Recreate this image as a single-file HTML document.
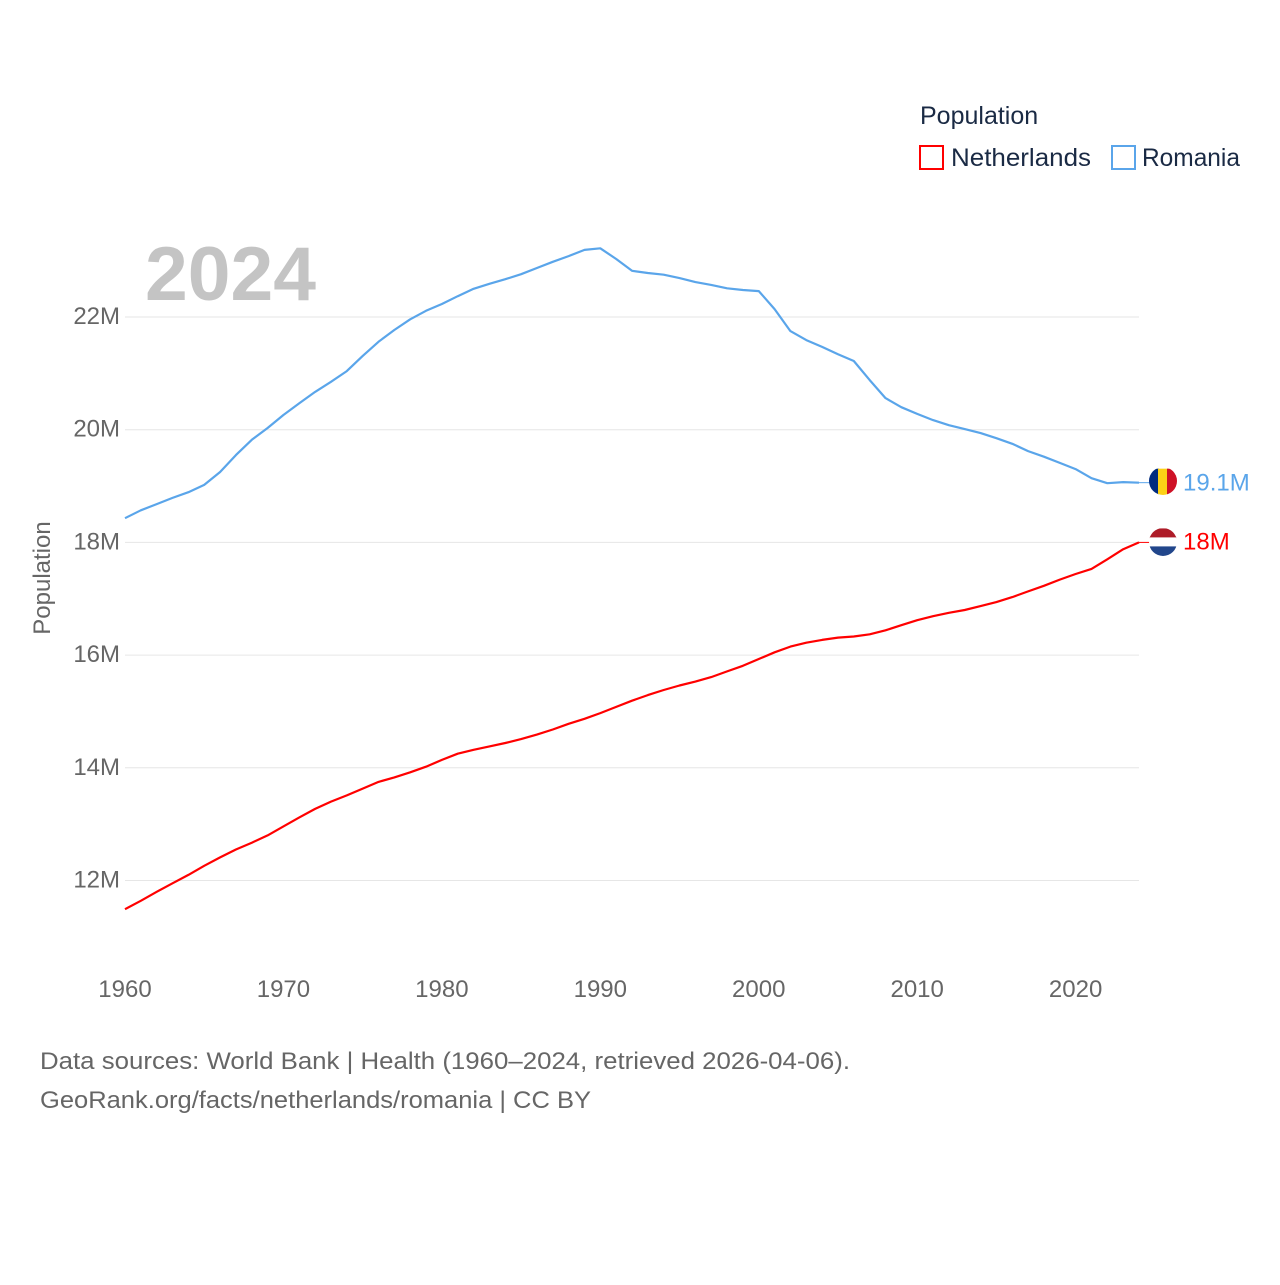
<!DOCTYPE html>
<html><head><meta charset="utf-8"><style>
body{margin:0;background:#fff;}
svg text{font-family:"Liberation Sans",sans-serif;}
</style></head><body>
<svg id="chart" width="1280" height="1280" viewBox="0 0 1280 1280" xmlns="http://www.w3.org/2000/svg">
<rect width="1280" height="1280" fill="#fff"/>
<g id="grid"></g>
<g id="yticks"></g>
<g id="xticks"></g>
<text x="145" y="300" font-size="76" font-weight="bold" fill="#c4c4c4" textLength="171" lengthAdjust="spacingAndGlyphs">2024</text>
<text transform="translate(50,578) rotate(-90)" text-anchor="middle" font-size="24" fill="#666">Population</text>
<g id="series"></g>
<g>
<text x="920" y="124" font-size="25" fill="#1a2a44">Population</text>
<g><rect x="920" y="146" width="23" height="23" fill="none" stroke="#f00" stroke-width="2"/><text x="951" y="166" font-size="25" fill="#1a2a44" textLength="140" lengthAdjust="spacingAndGlyphs">Netherlands</text></g>
<g><rect x="1112" y="146" width="23" height="23" fill="none" stroke="#5aa5ea" stroke-width="2"/><text x="1142" y="166" font-size="25" fill="#1a2a44" textLength="98" lengthAdjust="spacingAndGlyphs">Romania</text></g>
</g>
<text x="40" y="1069" font-size="24" fill="#666" textLength="810" lengthAdjust="spacingAndGlyphs">Data sources: World Bank | Health (1960–2024, retrieved 2026-04-06).</text>
<text x="40" y="1108" font-size="24" fill="#666" textLength="551" lengthAdjust="spacingAndGlyphs">GeoRank.org/facts/netherlands/romania | CC BY</text>
<defs>
<clipPath id="c1"><circle cx="1163" cy="481" r="14"/></clipPath>
<clipPath id="c2"><circle cx="1163" cy="542" r="14"/></clipPath>
</defs>
</svg>
<script>
const years=[];for(let y=1960;y<=2024;y++)years.push(y);
const romania=[18.43,18.57,18.68,18.79,18.89,19.02,19.25,19.55,19.82,20.03,20.26,20.47,20.67,20.85,21.04,21.31,21.56,21.77,21.96,22.11,22.23,22.37,22.50,22.59,22.67,22.76,22.87,22.98,23.08,23.19,23.22,23.03,22.82,22.78,22.75,22.69,22.62,22.57,22.51,22.48,22.46,22.14,21.75,21.59,21.47,21.34,21.22,20.88,20.56,20.40,20.28,20.17,20.08,20.01,19.94,19.85,19.75,19.62,19.52,19.41,19.30,19.14,19.05,19.07,19.06];
const netherlands=[11.49,11.64,11.80,11.95,12.10,12.26,12.41,12.55,12.67,12.80,12.96,13.12,13.27,13.40,13.51,13.63,13.75,13.83,13.92,14.02,14.14,14.25,14.32,14.38,14.44,14.51,14.59,14.68,14.78,14.87,14.97,15.08,15.19,15.29,15.38,15.46,15.53,15.61,15.71,15.81,15.93,16.05,16.15,16.22,16.27,16.31,16.33,16.37,16.44,16.53,16.62,16.69,16.75,16.80,16.87,16.94,17.03,17.13,17.23,17.34,17.44,17.53,17.70,17.88,18.00];
const yTicks=[12,14,16,18,20,22];
const xTicks=[1960,1970,1980,1990,2000,2010,2020];
const NS="http://www.w3.org/2000/svg";
const X=y=>125+(y-1960)*(1139-125)/64;
const Y=v=>317+(22-v)*56.35;
function mk(t,a,p){const e=document.createElementNS(NS,t);for(const k in a)e.setAttribute(k,a[k]);p.appendChild(e);return e;}
const grid=document.getElementById('grid'),yt=document.getElementById('yticks'),xt=document.getElementById('xticks'),ser=document.getElementById('series');
yTicks.forEach(v=>{
 const l=mk('line',{x1:125,x2:1139,y1:Y(v),y2:Y(v),stroke:'#e6e6e6','stroke-width':1},grid);
 
 
 const t=mk('text',{x:120,y:Y(v)+7,'text-anchor':'end','font-size':24,fill:'#666'},yt);t.textContent=v+'M';
 
 
});
xTicks.forEach(v=>{
 const t=mk('text',{x:X(v),y:997,'text-anchor':'middle','font-size':24,fill:'#666'},xt);t.textContent=v;
 
 
});
function line(vals,col,name){
 const d=vals.map((v,i)=>(i?'L':'M')+X(years[i]).toFixed(1)+','+Y(v).toFixed(1)).join('');
 const p=mk('path',{d:d,fill:'none',stroke:col,'stroke-width':2.2,'stroke-linejoin':'round'},ser);
 
 
 const last=vals[vals.length-1];
 mk('line',{x1:X(2024),x2:1150,y1:Y(last),y2:Y(last),stroke:col,'stroke-width':1},ser);
 return last;
}
const rl=line(romania,'#5aa5ea','line-romania');
const nl=line(netherlands,'#f00','line-netherlands');
const s=document.getElementById('chart');
const ry=Y(rl),ny=Y(nl);
const rf=mk('g',{'clip-path':'url(#c1)'},s);


mk('rect',{x:1149,y:ry-14,width:10,height:28,fill:'#002b7f'},rf);
mk('rect',{x:1158,y:ry-14,width:10,height:28,fill:'#fcd116'},rf);
mk('rect',{x:1167,y:ry-14,width:10,height:28,fill:'#ce1126'},rf);
const nf=mk('g',{'clip-path':'url(#c2)'},s);


mk('rect',{x:1149,y:ny-14,width:28,height:10,fill:'#ae1c28'},nf);
mk('rect',{x:1149,y:ny-5,width:28,height:10,fill:'#fff'},nf);
mk('rect',{x:1149,y:ny+4,width:28,height:10,fill:'#21468b'},nf);
const t1=mk('text',{x:1183,y:ry+8,'font-size':24,fill:'#5aa5ea'},s);t1.textContent=rl.toFixed(1)+'M';


const t2=mk('text',{x:1183,y:ny+7,'font-size':24,fill:'#f00'},s);t2.textContent=(Math.round(nl*10)/10)+'M';


</script>
</body></html>
